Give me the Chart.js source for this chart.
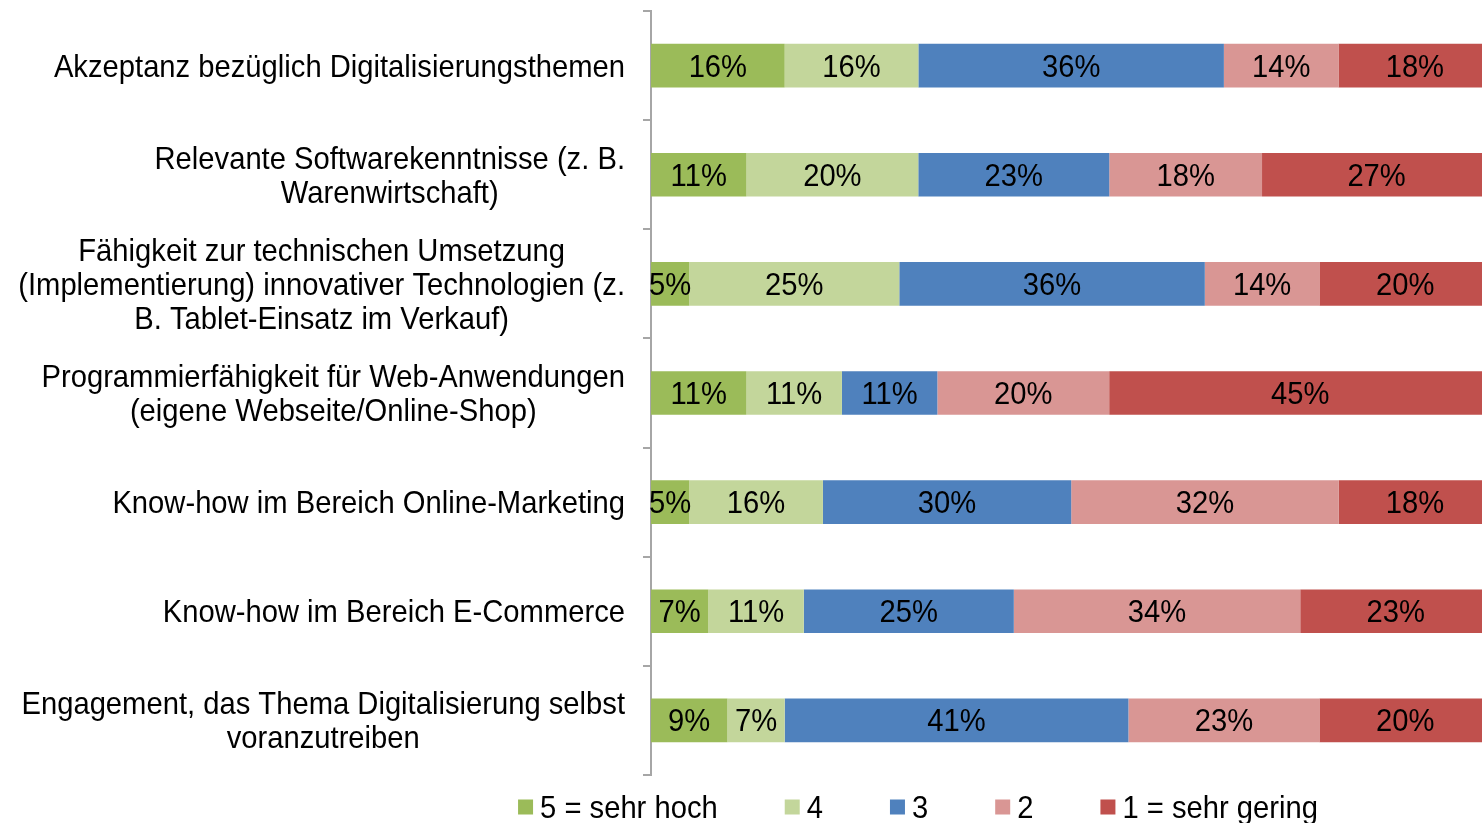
<!DOCTYPE html>
<html lang="de">
<head>
<meta charset="UTF-8">
<title>Kompetenzen Digitalisierung</title>
<script src="https://cdn.jsdelivr.net/npm/chart.js@4.4.1/dist/chart.umd.min.js"></script>
<style>
  html, body { margin: 0; padding: 0; background: #fff; overflow: hidden; }
  canvas { display: block; }
</style>
</head>
<body>
<canvas id="chartKompetenz" width="1482" height="823"></canvas>
<script>
  // Kategorien (von oben nach unten), Zeilenumbrüche wie im Original
  var kategorien = [
    ["Akzeptanz bezüglich Digitalisierungsthemen"],
    ["Relevante Softwarekenntnisse (z. B.", "Warenwirtschaft)"],
    ["Fähigkeit zur technischen Umsetzung", "(Implementierung) innovativer Technologien (z.", "B. Tablet-Einsatz im Verkauf)"],
    ["Programmierfähigkeit für Web-Anwendungen", "(eigene Webseite/Online-Shop)"],
    ["Know-how im Bereich Online-Marketing"],
    ["Know-how im Bereich E-Commerce"],
    ["Engagement, das Thema Digitalisierung selbst", "voranzutreiben"]
  ];
  var stufen = ["5 = sehr hoch", "4", "3", "2", "1 = sehr gering"];

  // Anteile in % je Bewertungsstufe
  var wert5 = [15.91, 11.36, 4.55, 11.36, 4.55, 6.82, 9.09];
  var wert4 = [15.91, 20.45, 25.00, 11.36, 15.91, 11.36, 6.82];
  var wert3 = [36.36, 22.73, 36.36, 11.36, 29.55, 25.00, 40.91];
  var wert2 = [13.64, 18.18, 13.64, 20.45, 31.82, 34.09, 22.73];
  var wert1 = [18.18, 27.27, 20.45, 45.45, 18.18, 22.73, 20.45];

  var groesse = 29.2;
  var streckungY = 1.05;   // Schrift im Original leicht hochgezogen
  var schrift = groesse + 'px "Liberation Sans", Arial, sans-serif';

  // Text um eine Mittellinie herum schreiben (Ziffernmitte = mitteY)
  function schreibe(ctx, text, x, mitteY) {
    ctx.save();
    ctx.translate(x, mitteY + 0.358 * groesse * streckungY);
    ctx.scale(1, streckungY);
    ctx.fillText(text, 0, 0);
    ctx.restore();
  }

  // Prozentwerte mittig in die Balken schreiben
  var wertLabels = {
    id: 'wertLabels',
    afterDatasetsDraw: function(chart) {
      var ctx = chart.ctx;
      ctx.save();
      ctx.font = schrift;
      ctx.fillStyle = '#000';
      ctx.textAlign = 'center';
      ctx.textBaseline = 'alphabetic';
      chart.data.datasets.forEach(function(ds, i) {
        chart.getDatasetMeta(i).data.forEach(function(bar, j) {
          var p = bar.getCenterPoint();
          schreibe(ctx, Math.round(ds.data[j]) + '%', p.x, p.y);
        });
      });
      ctx.restore();
    }
  };

  // Achsenbeschriftung: Block rechtsbündig, Zeilen zentriert
  var achsenText = {
    id: 'achsenText',
    afterDraw: function(chart) {
      var ctx = chart.ctx;
      var yAchse = chart.scales.y;
      var rechts = chart.chartArea.left - 26;
      ctx.save();
      ctx.font = schrift;
      ctx.fillStyle = '#000';
      ctx.textAlign = 'center';
      ctx.textBaseline = 'alphabetic';
      kategorien.forEach(function(zeilen, i) {
        var breite = Math.max.apply(null, zeilen.map(function(z) { return ctx.measureText(z).width; }));
        var cx = rechts - breite / 2;
        var cy = yAchse.getPixelForValue(i);
        zeilen.forEach(function(z, k) {
          schreibe(ctx, z, cx, cy + (k - (zeilen.length - 1) / 2) * 34);
        });
      });
      ctx.restore();
    }
  };

  // Legende unten
  var legende = {
    id: 'legende',
    afterDraw: function(chart, args, o) {
      var ctx = chart.ctx;
      ctx.save();
      ctx.font = schrift;
      ctx.textAlign = 'left';
      ctx.textBaseline = 'alphabetic';
      var breiten = chart.data.datasets.map(function(ds) {
        return o.box + o.abstand + ctx.measureText(ds.label).width;
      });
      var gesamt = breiten.reduce(function(a, b) { return a + b; }, 0) + o.luecke * (breiten.length - 1);
      var x = o.mitteX - gesamt / 2;
      chart.data.datasets.forEach(function(ds, i) {
        ctx.fillStyle = ds.backgroundColor;
        ctx.fillRect(x, o.y - o.box / 2, o.box, o.box);
        ctx.fillStyle = '#000';
        schreibe(ctx, ds.label, x + o.box + o.abstand, o.y);
        x += breiten[i] + o.luecke;
      });
      ctx.restore();
    }
  };

  var ctx = document.getElementById('chartKompetenz').getContext('2d');
  var chart = new Chart(ctx, {
    type: 'bar',
    data: {
      labels: kategorien,
      datasets: [
        { label: stufen[0], data: wert5, backgroundColor: '#9BBB59' },
        { label: stufen[1], data: wert4, backgroundColor: '#C3D69B' },
        { label: stufen[2], data: wert3, backgroundColor: '#4F81BD' },
        { label: stufen[3], data: wert2, backgroundColor: '#D99694' },
        { label: stufen[4], data: wert1, backgroundColor: '#C0504D' }
      ]
    },
    options: {
      indexAxis: 'y',
      responsive: false,
      animation: false,
      categoryPercentage: 1,
      barPercentage: 0.4,
      layout: { padding: { top: 11, bottom: 48, left: 0, right: 0 } },
      scales: {
        x: { stacked: true, min: 0, max: 98.9, display: false },
        y: {
          stacked: true,
          border: { color: '#A6A6A6', width: 2 },
          grid: { drawOnChartArea: false, tickLength: 8, color: '#A6A6A6', lineWidth: 2 },
          ticks: { display: false },
          afterFit: function(scale) { scale.width = 651; }
        }
      },
      plugins: {
        legend: { display: false },
        tooltip: { enabled: false },
        legende: { box: 15, abstand: 7, luecke: 67, mitteX: 918, y: 807 }
      }
    },
    plugins: [wertLabels, achsenText, legende]
  });
</script>
</body>
</html>
